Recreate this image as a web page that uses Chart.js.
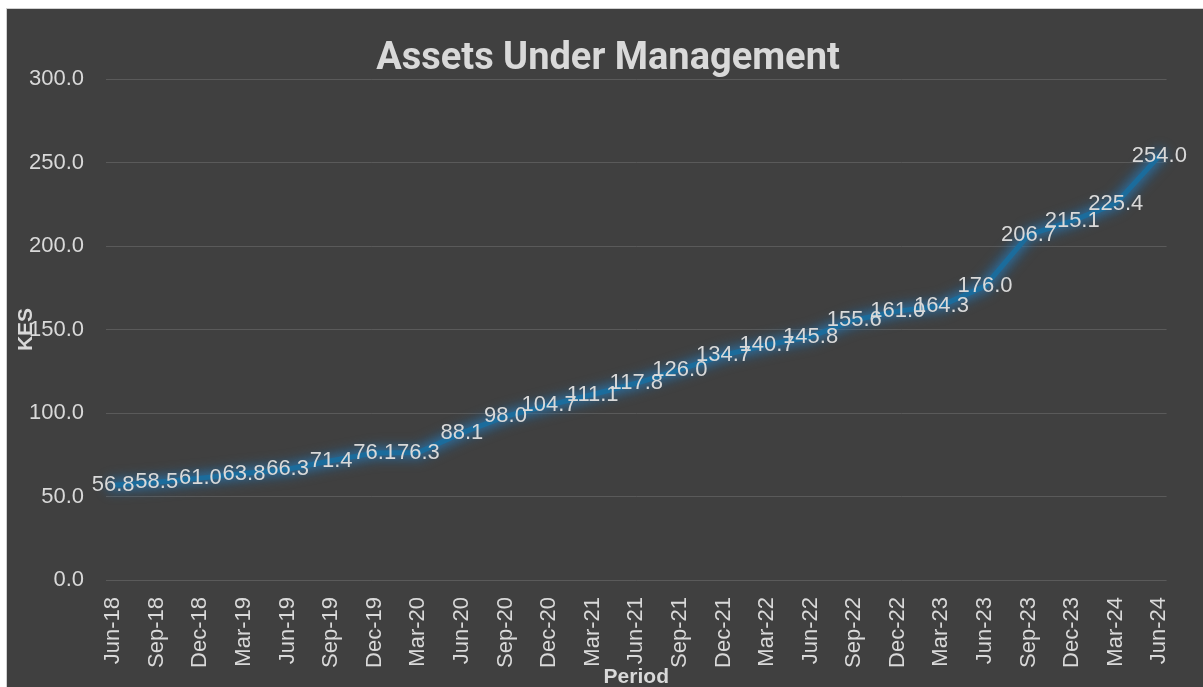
<!DOCTYPE html>
<html>
<head>
<meta charset="utf-8">
<script src="https://cdn.jsdelivr.net/npm/chart.js@4/dist/chart.umd.min.js"></script>
<style>
  html, body { margin: 0; padding: 0; background: #ffffff; overflow: hidden; }
  #wrap { position: absolute; left: 6px; top: 8px; width: 1197px; height: 701px;
          border-left: 1px solid #d0d0d0; border-top: 1px solid #d0d0d0; background: #404040; overflow: hidden; }
  canvas { display: block; }
</style>
</head>
<body>
<div id="wrap"><canvas id="c" width="1196" height="700" style="width:1196px;height:700px"></canvas></div>
<script>
const periods = ["Jun-18","Sep-18","Dec-18","Mar-19","Jun-19","Sep-19","Dec-19","Mar-20","Jun-20","Sep-20","Dec-20","Mar-21","Jun-21","Sep-21","Dec-21","Mar-22","Jun-22","Sep-22","Dec-22","Mar-23","Jun-23","Sep-23","Dec-23","Mar-24","Jun-24"];
const aum = [56.8,58.5,61.0,63.8,66.3,71.4,76.1,76.3,88.1,98.0,104.7,111.1,117.8,126.0,134.7,140.7,145.8,155.6,161.0,164.3,176.0,206.7,215.1,225.4,254.0];
const yTicks = [0,50,100,150,200,250,300];

const txt = '#d9d9d9';
const fam = '"Liberation Sans", Arial, sans-serif';

const glow = {
  id: 'glow',
  beforeDatasetDraw(chart) {
    const ctx = chart.ctx;
    const pts = chart.getDatasetMeta(0).data;
    ctx.save();
    ctx.lineJoin = 'round';
    ctx.lineCap = 'round';
    ctx.filter = 'blur(5px)';
    ctx.strokeStyle = 'rgba(35,110,165,0.35)';
    ctx.lineWidth = 20;
    ctx.beginPath();
    pts.forEach((p, i) => i ? ctx.lineTo(p.x, p.y) : ctx.moveTo(p.x, p.y));
    ctx.stroke();
    ctx.restore();
    ctx.save();
    ctx.shadowColor = 'rgba(40,130,195,0.8)';
    ctx.shadowBlur = 8;
  },
  afterDatasetDraw(chart) { chart.ctx.restore(); }
};

const dataLabels = {
  id: 'dataLabels',
  afterDatasetsDraw(chart) {
    const ctx = chart.ctx;
    const meta = chart.getDatasetMeta(0);
    ctx.save();
    ctx.font = '22px ' + fam;
    ctx.fillStyle = txt;
    ctx.textAlign = 'center';
    ctx.textBaseline = 'middle';
    meta.data.forEach((el, i) => {
      ctx.fillText(aum[i].toFixed(1), el.x, el.y);
    });
    ctx.restore();
  }
};

new Chart(document.getElementById('c'), {
  type: 'line',
  data: {
    datasets: [{
      label: 'AUM',
      data: aum.map((v, i) => ({ x: i, y: v })),
      borderColor: '#1b6c9c',
      borderWidth: 5,
      pointRadius: 0,
      tension: 0,
      fill: false,
      yAxisID: 'y'
    }]
  },
  options: {
    responsive: false,
    animation: false,
    devicePixelRatio: 1,
    layout: { padding: { left: 6, right: 0, top: 0, bottom: 0 } },
    plugins: {
      legend: { display: false },
      tooltip: { enabled: false },
      title: {
        display: true,
        text: 'Assets Under Management',
        color: txt,
        font: { family: 'Roboto, "Liberation Sans", sans-serif', size: 38, weight: 'bold', lineHeight: 1 },
        padding: { top: 31, bottom: 1 }
      }
    },
    scales: {
      x: {
        type: 'linear',
        min: -0.165,
        max: 24.165,
        afterBuildTicks(scale) { scale.ticks = periods.map((_, i) => ({ value: i })); },
        afterFit(scale) { scale.height = 129; },
        grid: { display: false, drawTicks: false },
        border: { display: false },
        ticks: {
          autoSkip: false,
          minRotation: 90,
          maxRotation: 90,
          padding: 17,
          color: txt,
          font: { family: fam, size: 22 },
          callback: (v) => periods[v]
        },
        title: {
          display: true,
          text: 'Period',
          color: txt,
          font: { family: fam, size: 21, weight: 'bold' },
          padding: { top: 0, bottom: 19 }
        }
      },
      y: {
        min: 0,
        max: 300,
        afterBuildTicks(scale) { scale.ticks = yTicks.map(v => ({ value: v })); },
        afterFit(scale) { scale.width = 93; },
        grid: { color: '#5a5a5a', lineWidth: 1, drawTicks: false },
        border: { display: false },
        ticks: {
          padding: 22,
          color: txt,
          font: { family: fam, size: 22 },
          callback: (v) => Number(v).toFixed(1)
        },
        title: {
          display: true,
          text: 'KES',
          color: txt,
          font: { family: fam, size: 21, weight: 'bold' },
          padding: { top: 1, bottom: 0 }
        }
      },
      yRight: {
        position: 'right',
        min: 0,
        max: 300,
        afterFit(scale) { scale.width = 33; },
        grid: { display: false, drawTicks: false },
        border: { display: false },
        ticks: { display: false }
      }
    }
  },
  plugins: [glow, dataLabels]
});
</script>
</body>
</html>
